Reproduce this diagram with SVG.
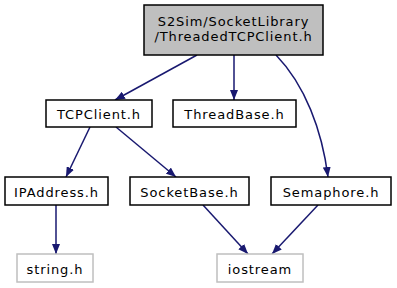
<svg xmlns="http://www.w3.org/2000/svg" width="397" height="288" viewBox="0 0 397 288">
  <style>
    .box { fill: #ffffff; stroke: #000000; stroke-width: 1.5; }
    .ext { fill: #ffffff; stroke: #bfbfbf; stroke-width: 1.5; }
    .root { fill: #bfbfbf; stroke: #000000; stroke-width: 1.5; }
    .lbl { font-family: "DejaVu Sans", sans-serif; font-size: 13px; letter-spacing: 0.9px; fill: #000000; text-anchor: middle; }
    .edge { fill: none; stroke: #191970; stroke-width: 1.5; }
  </style>
  <defs>
    <marker id="arrow" viewBox="0 0 10 8" refX="10" refY="4" markerWidth="10" markerHeight="8" markerUnits="userSpaceOnUse" orient="auto">
      <path d="M0,0 L10,4 L0,8 Z" fill="#191970"/>
    </marker>
  </defs>

  <g id="connectors">
    <path class="edge" marker-end="url(#arrow)" d="M197,55 L115,100"/>
    <path class="edge" marker-end="url(#arrow)" d="M234,55 L234,100"/>
    <path class="edge" marker-end="url(#arrow)" d="M276,55 C305,85 322,130 328,177"/>
    <path class="edge" marker-end="url(#arrow)" d="M90,127 L66,177"/>
    <path class="edge" marker-end="url(#arrow)" d="M116,127 L176,177"/>
    <path class="edge" marker-end="url(#arrow)" d="M56,205 L56,254"/>
    <path class="edge" marker-end="url(#arrow)" d="M203,205 L248,254"/>
    <path class="edge" marker-end="url(#arrow)" d="M318,205 L272,254"/>
  </g>

  <g id="node-threadedtcpclient">
    <rect class="root" x="144" y="5" width="179" height="50"/>
    <text class="lbl" x="233.5" y="26">S2Sim/SocketLibrary</text>
    <text class="lbl" x="233.5" y="41">/ThreadedTCPClient.h</text>
  </g>
  <g id="node-tcpclient">
    <rect class="box" x="46" y="100" width="106" height="27"/>
    <text class="lbl" x="99" y="118.5">TCPClient.h</text>
  </g>
  <g id="node-threadbase">
    <rect class="box" x="173" y="100" width="123" height="27"/>
    <text class="lbl" x="234.5" y="118.5">ThreadBase.h</text>
  </g>
  <g id="node-ipaddress">
    <rect class="box" x="5" y="177" width="103" height="28"/>
    <text class="lbl" x="56.5" y="196.5">IPAddress.h</text>
  </g>
  <g id="node-socketbase">
    <rect class="box" x="130" y="177" width="119" height="28"/>
    <text class="lbl" x="189.5" y="196.5">SocketBase.h</text>
  </g>
  <g id="node-semaphore">
    <rect class="box" x="271" y="177" width="120" height="28"/>
    <text class="lbl" x="331" y="196.5">Semaphore.h</text>
  </g>
  <g id="node-string">
    <rect class="ext" x="17" y="254" width="76" height="28"/>
    <text class="lbl" x="55" y="273.5">string.h</text>
  </g>
  <g id="node-iostream">
    <rect class="ext" x="217" y="254" width="86" height="28"/>
    <text class="lbl" x="260" y="273.5">iostream</text>
  </g>
</svg>
